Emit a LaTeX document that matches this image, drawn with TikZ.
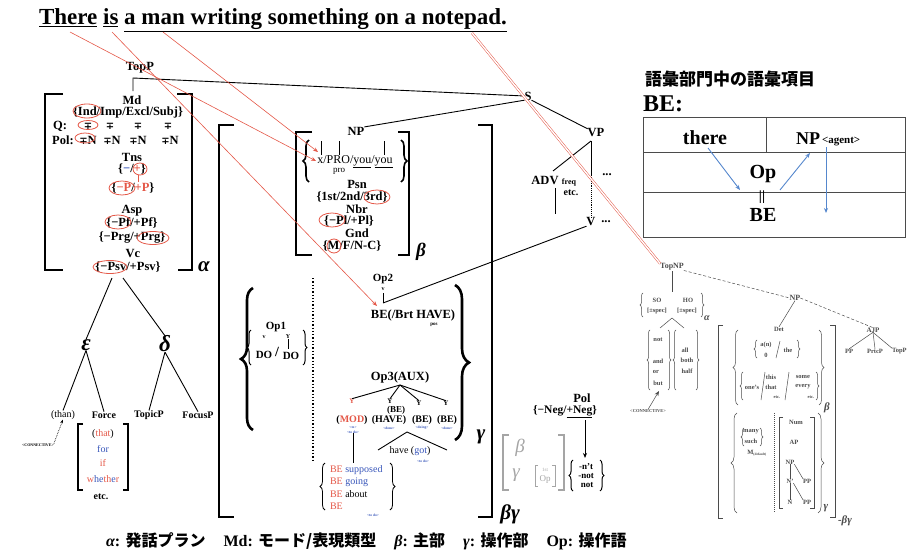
\documentclass[tikz,border=0pt]{standalone}
\usepackage{fontspec}
\setmainfont{Liberation Serif}
\newfontfamily\cjk{Noto Sans CJK JP}
\newfontfamily\djs{DejaVu Serif}
\usetikzlibrary{decorations.pathreplacing,arrows.meta,calc}
\definecolor{rd}{RGB}{228,88,72}
\definecolor{bl}{RGB}{55,85,185}
\definecolor{ab}{RGB}{85,135,205}
\definecolor{gy}{RGB}{165,165,165}
\definecolor{dg}{RGB}{75,75,75}
\begin{document}
\begin{tikzpicture}[x=1pt,y=-1pt,
  every node/.style={inner sep=0pt,outer sep=0pt},
  lb/.style={font=\bfseries\fontsize{12.5}{13}\selectfont},
  lbr/.style={font=\fontsize{12}{13}\selectfont},
  sm/.style={font=\bfseries\fontsize{10}{11}\selectfont},
  smr/.style={font=\fontsize{10}{11}\selectfont},
  tn/.style={font=\bfseries\fontsize{6.5}{7}\selectfont,text=dg},
  tb/.style={font=\bfseries\fontsize{3.6}{4}\selectfont,text=bl},
  gk/.style={font=\bfseries\itshape\fontsize{21}{22}\selectfont},
  mp/.style={font=\djs\bfseries\fontsize{10}{10}\selectfont},
  brk/.style={line width=2.6pt},
  mbrk/.style={line width=1.8pt},
  tln/.style={line width=0.9pt},
  redl/.style={draw=rd,line width=0.6pt},
  redo/.style={draw=rd,line width=0.8pt},
  gl/.style={draw=dg,line width=0.5pt},
  brc/.style={decorate,decoration={brace,amplitude=#1}},
  arr/.style={-{Stealth[length=5pt,width=4pt]}},
]
\useasboundingbox (0,0) rectangle (911,554);

% ---------- title
\node[font=\bfseries\fontsize{23}{26}\selectfont] (title) at (273,20) {\underline{There} \underline{is} \underline{a man writing something on a notepad.}};
\coordinate (wThere) at (70,32);
\coordinate (wIs) at (112,32);
\coordinate (wMan) at (163,32);
\coordinate (wPad) at (472,33);

% ---------- TopP
\node[lb] (TopP) at (140,68) {TopP};
\node[lb] (S) at (528,96) {S};
\coordinate (tpc) at (133,78);
\draw[tln] (133,91) -- (tpc) -- (S.west);

% ---------- alpha stack
\draw[brk] (63,94) -- (45,94) -- (45,270) -- (63,270);
\draw[brk] (177,94) -- (192,94) -- (192,270) -- (178,270);
\node[gk] (alpha) at (204,267) {α};
\node[lb] (Md) at (132,100) {Md};
\node[lb] (mdset) at (128,112) {\{Ind/Imp/Excl/Subj\}};
\draw[redo] (87,111) ellipse [x radius=14, y radius=7];
\node[lb] (Q) at (60,126) {Q:};
\foreach \x in {88,110,138,168} \node[mp] (q\x) at (\x,126) {∓};
\draw[redo] (88,125) ellipse [x radius=10, y radius=4.5];
\node[lb] (Polr) at (63,140) {Pol:};
\foreach \x in {88,112,138,170} \node[lb] (p\x) at (\x,140) {{\djs\fontsize{10}{10}\selectfont ∓}N};
\draw[redo] (85,138) ellipse [x radius=10, y radius=5];
\node[lb] (Tns) at (132,157) {Tns};
\node[lb] (tnsset) at (132,169) {\{{\color{bl}−}/{\color{rd}+}\}};
\draw[redo] (140,169) ellipse [x radius=7, y radius=6];
\draw[redl] (138,175) -- (138,182);
\node[lb] (pset) at (133,188) {\{{\color{rd}−P}/{\color{rd}+P}\}};
\draw[redo] (122,188) ellipse [x radius=13, y radius=7];
\node[lb] (Asp) at (132,211) {Asp};
\node[lb] (pfset) at (132,223) {\{−Pf/+Pf\}};
\draw[redo] (118,222) ellipse [x radius=13, y radius=7];
\node[lb] (prgset) at (132,238) {\{−Prg/+Prg\}};
\draw[redo] (153,238) ellipse [x radius=16, y radius=6.5];
\node[lb] (Vc) at (133,254) {Vc};
\node[lb] (psvset) at (128,267) {\{−Psv/+Psv\}};
\draw[redo] (110,267) ellipse [x radius=17, y radius=6.5];

% ---------- lower-left tree
\coordinate (vcL) at (112,278);
\coordinate (vcR) at (123,278);
\node[gk,font=\bfseries\itshape\fontsize{23}{24}\selectfont] (eps) at (86,345) {ε};
\node[gk,font=\bfseries\itshape\fontsize{23}{24}\selectfont] (del) at (165,344) {δ};
\draw[tln] (vcL) -- (eps.north);
\draw[tln] (vcR) -- (del.north);
\node[smr] (than) at (63,415) {(than)};
\node[sm] (Force) at (104,415) {Force};
\node[sm] (TopicP) at (149,415) {TopicP};
\node[sm] (FocusP) at (198,415) {FocusP};
\draw[tln] (eps.south) -- (than.north);
\draw[tln] (eps.south) -- (Force.north);
\draw[tln] (del.south) -- (TopicP.north);
\draw[tln] (del.south) -- (FocusP.north);
\node[font=\bfseries\fontsize{4}{4}\selectfont] (conn1) at (38,445) {<CONNECTIVE>};
\draw[densely dotted,line width=0.7pt,-{Stealth[length=4pt,width=3pt]}] (conn1.north east) -- (than.south);
\draw[line width=1.1pt] (83,424) -- (78,424) -- (78,490) -- (83,490);
\draw[line width=1.1pt] (123,424) -- (128,424) -- (128,490) -- (123,490);
\node[smr] (that) at (103,434) {(\textcolor{rd}{that})};
\node[smr,text=bl] (for) at (103,449) {for};
\node[smr,text=rd] (if) at (103,463) {if};
\node[smr] (whether) at (103,479) {\textcolor{rd}{w}\textcolor{bl}{he}\textcolor{rd}{th}\textcolor{bl}{e}\textcolor{rd}{r}};
\node[sm] (etcF) at (101,497) {etc.};

% ---------- big beta-gamma bracket
\draw[brk] (234,125) -- (219,125) -- (219,517) -- (234,517);
\draw[brk] (478,125) -- (492,125) -- (492,517) -- (478,517);
\node[gk] (bgL) at (510,514) {βγ};

% ---------- NP beta block
\draw[mbrk] (312,132) -- (296,132) -- (296,255) -- (312,255);
\draw[mbrk] (398,132) -- (409,132) -- (409,255) -- (398,255);
\node[gk,font=\bfseries\itshape\fontsize{19}{20}\selectfont] (betaNP) at (421,252) {β};
\node[lb] (NP) at (356,131) {NP};
\draw[line width=1.6pt,brc=6pt] (309,182) -- (309,140);
\draw[line width=1.6pt,brc=6pt] (401,140) -- (401,182);
\node[lbr] (xpro) at (355,162) {x/PRO/\underline{you}/\underline{you}};
\draw[tln] (321,141) -- (321,155);
\draw[tln] (339,141) -- (339,155);
\draw[tln] (384,141) -- (384,155);
\node[font=\fontsize{9}{9}\selectfont] (pro) at (339,171) {pro};
\coordinate (arrA) at (318,152);
\coordinate (arrB) at (316,161);
\node[lb] (Psn) at (357,184) {Psn};
\node[lb] (psnset) at (352,197) {\{1st/2nd/3rd\}};
\draw[redo] (377,197) ellipse [x radius=13, y radius=7];
\node[lb] (Nbr) at (357,209) {Nbr};
\node[lb] (nbrset) at (349,221) {\{−Pl/+Pl\}};
\draw[redo] (332,220) ellipse [x radius=13, y radius=7];
\node[lb] (Gnd) at (357,233) {Gnd};
\node[lb] (gndset) at (352,246) {\{M/F/N-C\}};
\draw[redo] (334,246) circle [radius=7];
\draw[tln] (NP.north east) -- (S.south west);

% ---------- Op1 / Op2
\draw[line width=2.6pt,brc=12pt] (253,430) -- (253,288);
\draw[line width=2.6pt,brc=14pt] (455,285) -- (455,440);
\node[gk] (gamOp) at (481,437) {γ};
\draw[dotted,line width=1.3pt] (313,278) -- (313,460);
\draw[line width=1pt,brc=4pt] (251,365) -- (251,330);
\draw[line width=1pt,brc=4pt] (303,330) -- (303,365);
\node[sm,font=\bfseries\fontsize{11}{12}\selectfont] (Op1) at (276,327) {Op1};
\node[font=\bfseries\fontsize{6}{6}\selectfont] (op1v) at (264,337) {v};
\node[font=\bfseries\fontsize{6}{6}\selectfont] (op1y) at (288,337) {Y};
\draw[tln] (op1y.south) -- (288,349);
\node[lb,font=\bfseries\fontsize{11}{12}\selectfont] (DO1) at (264,355) {DO};
\node[font=\bfseries\fontsize{14}{14}\selectfont] (op1sl) at (277,352) {/};
\node[lb,font=\bfseries\fontsize{11}{12}\selectfont] (DO2) at (291,356) {DO};
\node[sm,font=\bfseries\fontsize{11}{12}\selectfont] (Op2) at (383,279) {Op2};
\node[font=\bfseries\fontsize{6}{6}\selectfont] (op2v) at (383,289) {v};
\coordinate (op2b) at (383,303);
\draw[tln] (383,293) -- (op2b);
\node[lb] (BEop2) at (413,315) {BE(/Brt HAVE)};
\node[font=\bfseries\fontsize{5}{5}\selectfont] (pos) at (434,325) {pos};
\coordinate (arrBE) at (377,306);

% ---------- Op3
\node[lb] (Op3) at (400,377) {Op3(AUX)};
\coordinate (op3b) at (400,385);
\node[font=\bfseries\fontsize{7}{7}\selectfont,text=rd] (y1) at (352,401) {Y};
\node[font=\bfseries\fontsize{7}{7}\selectfont] (y2) at (390,401) {Y};
\node[font=\bfseries\fontsize{7}{7}\selectfont] (y3) at (419,403) {Y};
\node[font=\bfseries\fontsize{7}{7}\selectfont] (y4) at (446,403) {Y};
\foreach \n in {y1,y2,y3,y4} \draw[tln] (op3b) -- (\n.north);
\node[font=\bfseries\fontsize{9}{10}\selectfont] (beS) at (396,410) {(BE)};
\node[sm] (MOD) at (352,420) {(\textcolor{rd}{MOD})};
\node[sm] (HAVE) at (389,420) {(HAVE)};
\node[sm] (BE3) at (422,420) {(BE)};
\node[sm] (BE4) at (447,420) {(BE)};
\node[tb] (tbm1) at (353,427) {<to>};
\node[tb] (tbm2) at (353,432) {<to do>};
\node[tb] (tbh) at (389,428) {<done>};
\node[tb] (tbb3) at (422,428) {<doing>};
\node[tb] (tbb4) at (447,428) {<done>};
\coordinate (triA) at (407,432);
\draw[tln] (triA) -- (378,450);
\draw[tln] (triA) -- (447,450);
\node[smr] (have) at (410,451) {have (\textcolor{bl}{got})};
\node[tb] (tbhv) at (423,461) {<to do>};
\draw[tln] (tbm2.south) -- (353,463);
\draw[line width=0.8pt,brc=5pt] (325,510) -- (325,463);
\draw[line width=0.8pt,brc=5pt] (390,463) -- (390,510);
\node[smr,anchor=west] (l1) at (330,470) {\textcolor{rd}{BE} \textcolor{bl}{supposed}};
\node[smr,anchor=west] (l2) at (330,482) {\textcolor{rd}{BE} \textcolor{bl}{going}};
\node[smr,anchor=west] (l3) at (330,494) {\textcolor{rd}{BE} about};
\node[smr,anchor=west] (l4) at (330,506) {\textcolor{rd}{BE}};
\node[tb] (tbl) at (373,515) {<to do>};

% ---------- Pol
\node[lb] (Pol) at (582,398) {Pol};
\node[font=\bfseries\fontsize{11.5}{12}\selectfont] (polset) at (565,412) {\{−Neg/\underline{+Neg}\}};
\coordinate (negA) at (585,420);
\node[font=\bfseries\fontsize{9}{10}\selectfont] (n1) at (586,467) {-n't};
\node[font=\bfseries\fontsize{9}{10}\selectfont] (n2) at (586,476) {-not};
\node[font=\bfseries\fontsize{9}{10}\selectfont] (n3) at (587,485) {not};
\draw[tln,arr] (negA) -- (585,458);
\draw[line width=1pt,brc=4pt] (573,491) -- (573,460);
\draw[line width=1pt,brc=4pt] (600,460) -- (600,491);
\draw[gy,line width=2pt] (509,435) -- (503,435) -- (503,490) -- (509,490);
\draw[gy,line width=2pt] (558,435) -- (564,435) -- (564,490) -- (558,490);
\node[font=\itshape\fontsize{19}{19}\selectfont,text=gy] (gb) at (520,448) {β};
\node[font=\itshape\fontsize{19}{19}\selectfont,text=gy] (gg) at (516,475) {γ};
\draw[gy,line width=0.8pt] (538,465) -- (535,465) -- (535,486) -- (538,486);
\draw[gy,line width=0.8pt] (552,465) -- (555,465) -- (555,486) -- (552,486);
\node[font=\fontsize{5}{5}\selectfont,text=gy] (g1st) at (545,470) {1st};
\node[font=\fontsize{9}{9}\selectfont,text=gy] (gop) at (545,479) {Op};

% ---------- VP
\node[lb] (VP) at (596,133) {VP};
\draw[tln] (S.south east) -- (VP.north west);
\node[lb] (ADV) at (545,180) {ADV};
\node[font=\bfseries\fontsize{8}{8}\selectfont] (freq) at (569,183) {freq};
\node[font=\bfseries\fontsize{10}{10}\selectfont] (etcV) at (571,193) {etc.};
\draw[tln] (591,141) -- (553,171);
\draw[tln] (555,188) -- (555,214);
\node[lb] (V) at (591,222) {V};
\draw[tln] (591,141) -- (591,175);
\draw[tln,densely dotted] (591,175) -- (V.north);
\node[lb] (dots1) at (607,175) {...};
\node[lb] (dots2) at (606,222) {...};
\draw[tln] (op2b) -- (V.south west);

% ---------- red links
\draw[redl,arr] (wThere) -- (arrB);
\draw[redl,arr] (wMan) -- (arrA);
\draw[redl,arr] (wIs) -- (arrBE);

% ---------- lexicon box
\node[font=\cjk\bfseries\fontsize{17}{18}\selectfont] (lexttl) at (730,79) {語彙部門中の語彙項目};
\node[font=\bfseries\fontsize{24}{24}\selectfont,anchor=west] (BEc) at (643,104) {BE:};
\draw[dg,line width=1pt] (643,117) rectangle (905,237);
\draw[dg,line width=1pt] (643,152) -- (905,152);
\draw[dg,line width=1pt] (643,192) -- (905,192);
\draw[dg,line width=1pt] (766,117) -- (766,152);
\node[font=\bfseries\fontsize{20}{20}\selectfont] (there) at (705,138) {there};
\node[font=\bfseries\fontsize{18}{18}\selectfont] (NPa) at (808,139) {NP};
\node[font=\bfseries\fontsize{11}{11}\selectfont,anchor=west] (agent) at (822,142) {<agent>};
\node[font=\bfseries\fontsize{20}{20}\selectfont] (Op) at (763,174) {Op};
\node[font=\bfseries\fontsize{14}{14}\selectfont] (eq) at (762,197) {||};
\node[font=\bfseries\fontsize{20}{20}\selectfont] (BEb) at (763,215) {BE};
\draw[ab,line width=0.9pt,arr] (708,148) -- (740,190);
\draw[ab,line width=0.9pt,arr] (780,190) -- (810,153);
\draw[ab,line width=0.9pt,arr] (826,147) -- (826,213);

% ---------- right lower tree
\node[font=\bfseries\fontsize{8}{8}\selectfont,text=dg] (TopNP) at (672,267) {TopNP};
\draw[rd,line width=0.5pt,double=white,double distance=1.4pt] (wPad) -- (TopNP.north west);
\node[font=\bfseries\fontsize{8}{8}\selectfont,text=dg] (NPr) at (795,298) {NP};
\node[font=\bfseries\fontsize{7}{7}\selectfont,text=dg] (AJP) at (873,330) {AJP};
\draw[gl,densely dashed] (TopNP.south east) -- (NPr.west);
\draw[gl,densely dashed] (NPr.east) -- (AJP.north);
\node[tn] (PPr) at (849,351) {PP};
\node[tn] (PrtcP) at (875,351) {PrtcP};
\node[tn,anchor=west] (TopPr) at (892,351) {TopP};
\draw[gl] (AJP.south) -- (PPr.north);
\draw[gl] (AJP.south) -- (PrtcP.north);
\draw[gl] (AJP.south) -- (TopPr.north west);
\node[tn] (Det) at (779,329) {Det};
\draw[gl] (NPr.south) -- (Det.north);
\draw[gl] (TopNP.south) ++(0,1) -- (672,292);
\draw[gl,brc=3pt] (643,317) -- (643,293);
\draw[gl,brc=3pt] (701,293) -- (701,317);
\node[tn] (SO) at (657,300) {SO};
\node[tn] (HO) at (688,300) {HO};
\node[tn] (spec1) at (657,311) {[±spec]};
\node[tn] (spec2) at (687,311) {[±spec]};
\node[font=\bfseries\itshape\fontsize{10}{10}\selectfont,text=dg] (alr) at (707,318) {α};
\coordinate (soF) at (672,318);
\draw[gl] (soF) -- (660,328);
\draw[gl] (soF) -- (684,328);
\draw[gl,brc=3pt] (650,390) -- (650,330);
\draw[gl,brc=3pt] (668,330) -- (668,390);
\draw[gl,brc=3pt] (676,390) -- (676,330);
\draw[gl,brc=3pt] (696,330) -- (696,390);
\node[tn] (not) at (658,340) {not};
\node[tn] (and) at (658,361) {and};
\node[tn] (or) at (656,372) {or};
\node[tn] (but) at (658,383) {but};
\node[tn] (all) at (685,350) {all};
\node[tn] (both) at (687,360) {both};
\node[tn] (half) at (687,371) {half};
\node[font=\bfseries\fontsize{4.5}{5}\selectfont,text=dg] (conn2) at (648,411) {<CONNECTIVE>};
\draw[gl,arr] (conn2.north) -- (659,391);
\draw[dg,line width=1pt] (723,325) -- (718,325) -- (718,518) -- (723,518);
\draw[dg,line width=1pt] (830,325) -- (835,325) -- (835,517) -- (830,517);
\node[font=\bfseries\itshape\fontsize{11}{11}\selectfont,text=dg] (bgr) at (845,521) {-βγ};
\draw[gl,brc=5pt] (738,405) -- (738,330);
\draw[gl,brc=3pt] (757,358) -- (757,340);
\node[tn] (an) at (766,345) {a(n)};
\node[tn] (zero) at (766,355) {0};
\draw[gl] (780,341) -- (776,358);
\node[tn] (the) at (788,350) {the};
\draw[gl,brc=3pt] (797,340) -- (797,358);
\draw[gl,brc=3pt] (743,400) -- (743,372);
\node[tn] (ones) at (752,387) {one's};
\draw[gl] (765,372) -- (761,400);
\node[tn] (this) at (771,377) {this};
\node[tn] (thatr) at (771,387) {that};
\node[font=\bfseries\fontsize{4.5}{5}\selectfont,text=dg] (etc1) at (777,397) {etc.};
\draw[gl] (789,372) -- (785,400);
\node[tn] (some) at (803,377) {some};
\node[tn] (every) at (803,387) {every};
\node[font=\bfseries\fontsize{4.5}{5}\selectfont,text=dg] (etc2) at (811,397) {etc.};
\draw[gl,brc=3pt] (816,372) -- (816,400);
\draw[gl,brc=5pt] (819,330) -- (819,405);
\node[font=\bfseries\itshape\fontsize{11}{11}\selectfont,text=dg] (betr) at (827,408) {β};
\draw[gl,brc=6pt] (737,513) -- (737,413);
\draw[gl,brc=3pt] (744,446) -- (744,428);
\node[tn] (many) at (751,432) {many};
\node[tn] (such) at (751,441) {such};
\draw[gl,brc=3pt] (760,428) -- (760,446);
\node[tn] (Mdef) at (757,453) {M\textsubscript{\fontsize{3.5}{4}\selectfont(default)}};
\draw[dg,densely dotted,line width=1pt] (774,413) -- (774,513);
\draw[dg,line width=0.9pt] (783,417) -- (779,417) -- (779,508) -- (783,508);
\draw[dg,line width=0.9pt] (810,417) -- (814,417) -- (814,508) -- (810,508);
\node[tn] (Num) at (796,422) {Num};
\node[tn] (APr) at (794,442) {AP};
\node[tn] (NPs) at (790,462) {NP};
\node[tn] (Nbar) at (790,481) {N'};
\node[tn] (PP1) at (807,481) {PP};
\node[tn] (Nr) at (790,502) {N};
\node[tn] (PP2) at (807,502) {PP};
\draw[gl] (NPs.south) -- (Nbar.north);
\draw[gl] (NPs.south east) -- (PP1.north west);
\draw[gl] (Nbar.south) -- (Nr.north);
\draw[gl] (Nbar.south east) -- (PP2.north west);
\draw[gl,brc=6pt] (818,413) -- (818,513);
\node[font=\bfseries\itshape\fontsize{11}{11}\selectfont,text=dg] (gamr) at (826,508) {γ};

% ---------- legend
\node[font=\bfseries\fontsize{16}{17}\selectfont,anchor=west] (legend) at (106,541) {{\itshape α}: {\cjk\bfseries 発話プラン}\hspace{18pt}Md: {\cjk\bfseries モード/表現類型}\hspace{18pt}{\itshape β}: {\cjk\bfseries 主部}\hspace{18pt}{\itshape γ}: {\cjk\bfseries 操作部}\hspace{18pt}Op: {\cjk\bfseries 操作語}};
\end{tikzpicture}
\end{document}
